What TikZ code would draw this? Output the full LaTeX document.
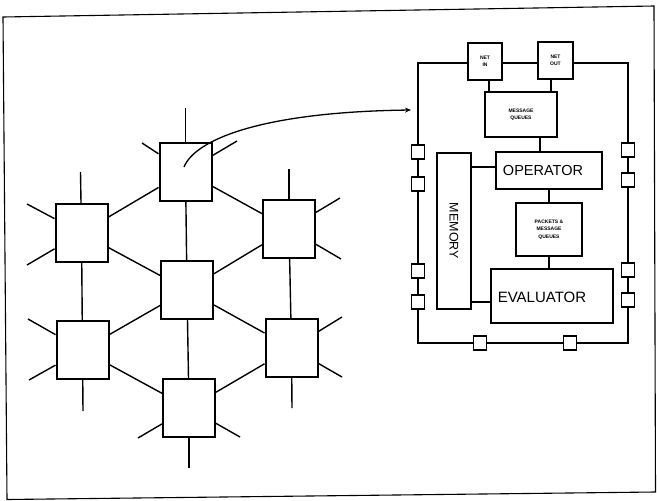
\documentclass[tikz,border=0pt]{standalone}
\usepackage{fontspec}
\setmainfont{Liberation Sans}
\usetikzlibrary{arrows.meta,calc}
\tikzset{
  meshbox/.style={draw, line width=2pt, fill=white, minimum width=52pt, minimum height=58pt, inner sep=0pt},
  link/.style={line width=1.4pt},
  unitbox/.style={draw, line width=1.9pt, fill=white, inner sep=0pt, align=center},
  port/.style={draw, line width=1.2pt, fill=white, minimum width=13pt, minimum height=14pt, inner sep=0pt},
  tiny/.style={font=\bfseries\fontsize{5}{7.5}\selectfont},
  big/.style={font=\fontsize{14.5}{16}\selectfont},
}
\begin{document}
\begin{tikzpicture}[x=1pt,y=-1pt]
\useasboundingbox (0,0) rectangle (657,501);
\fill[white] (0,0) rectangle (657,501);
% outer frame
\draw[line width=1.1pt] (3,17) -- (654,6) -- (655.5,492) -- (7,499.5) -- cycle;

% ---- mesh of processing elements ----
\node[meshbox] (T)  at (185.5,171.5) {};
\node[meshbox] (UL) at (81.5,233) {};
\node[meshbox] (C)  at (187,290) {};
\node[meshbox] (UR) at (289,228.5) {};
\node[meshbox] (LL) at (82.5,350) {};
\node[meshbox] (LR) at (291.5,348) {};
\node[meshbox] (B)  at (189,408) {};

% stub end points
\coordinate (Tt) at (185.5,108);
\coordinate (Tl) at (142,143);
\coordinate (Tr) at (237,141);
\coordinate (ULt) at (80.5,172);
\coordinate (ULa) at (27,204);
\coordinate (ULb) at (27,265);
\coordinate (URt) at (289,169);
\coordinate (URa) at (340,198);
\coordinate (URb) at (341,259);
\coordinate (LLa) at (28,319);
\coordinate (LLb) at (29,380);
\coordinate (LLd) at (83,411);
\coordinate (LRa) at (342,317);
\coordinate (LRb) at (342,377);
\coordinate (LRd) at (292,408);
\coordinate (Bd) at (189,468);
\coordinate (Bl) at (138,438);
\coordinate (Br) at (240,437);

\begin{scope}[link]
\draw (T) -- (UL);
\draw (T) -- (UR);
\draw (T) -- (C);
\draw (UL) -- (C);
\draw (UR) -- (C);
\draw (UL) -- (LL);
\draw (UR) -- (LR);
\draw (C) -- (LL);
\draw (C) -- (LR);
\draw (C) -- (B);
\draw (LL) -- (B);
\draw (LR) -- (B);
\draw (T) -- (Tt); \draw (T) -- (Tl); \draw (T) -- (Tr);
\draw (UL) -- (ULt); \draw (UL) -- (ULa); \draw (UL) -- (ULb);
\draw (UR) -- (URt); \draw (UR) -- (URa); \draw (UR) -- (URb);
\draw (LL) -- (LLa); \draw (LL) -- (LLb); \draw (LL) -- (LLd);
\draw (LR) -- (LRa); \draw (LR) -- (LRb); \draw (LR) -- (LRd);
\draw (B) -- (Bd); \draw (B) -- (Bl); \draw (B) -- (Br);
\end{scope}

% ---- processing element detail ----
\node[draw, line width=2pt, minimum width=210pt, minimum height=280pt, inner sep=0pt] (ring) at (523,203) {};

% curved arrow from mesh element to detail
\coordinate (arrowstart) at (184,167);
\coordinate (arrowend) at (411,110);
\draw[line width=1.3pt, -{Stealth[length=6pt,width=5pt]}] (arrowstart) .. controls (195,140) and (260,112) .. (arrowend);

\node[unitbox, minimum width=34pt, minimum height=37pt, tiny] (netin) at (485,61.5) {NET\\IN};
\node[unitbox, minimum width=35pt, minimum height=37pt, tiny] (netout) at (555.5,60.5) {NET\\OUT};
\node[unitbox, minimum width=72pt, minimum height=45pt, tiny] (mq) at (521,114.5) {MESSAGE\\QUEUES};
\node[unitbox, minimum width=106pt, minimum height=37pt] (op) at (549,170.5) {};
\node[big, inner sep=0pt] (oplabel) at (543,171) {OPERATOR};
\node[unitbox, minimum width=34pt, minimum height=156pt] (mem) at (454,231) {};
\node[rotate=-90, inner sep=0pt, font=\fontsize{12.5}{14}\selectfont] (memlabel) at (mem.center) {MEMORY};
\node[unitbox, minimum width=66pt, minimum height=53pt, tiny] (pk) at (549,229.5) {PACKETS \&\\MESSAGE\\QUEUES};
\node[unitbox, minimum width=122pt, minimum height=54pt] (ev) at (552,296) {};
\node[font=\fontsize{15}{17}\selectfont, inner sep=0pt] (evlabel) at (542,297) {EVALUATOR};

\begin{scope}[line width=1.2pt]
\draw ([xshift=4pt]netin.south) -- ([xshift=4pt]netin.south |- mq.north);
\draw ([xshift=-4.5pt]netout.south) -- ([xshift=-4.5pt]netout.south |- mq.north);
\draw ([xshift=19pt]mq.south) -- ([xshift=19pt]mq.south |- op.north);
\draw (op.south) -- (pk.north);
\draw (pk.south) -- (pk.south |- ev.north);
\draw ([yshift=3.5pt]op.west) -- ([yshift=3.5pt]op.west -| mem.east);
\draw ([yshift=-6pt]ev.west) -- ([yshift=-6pt]ev.west -| mem.east);
\end{scope}

% ports on the ring
\node[port] (pl1) at (418,152) {};
\node[port] (pl2) at (418,184) {};
\node[port] (pl3) at (418,271) {};
\node[port] (pl4) at (418,302) {};
\node[port] (pr1) at (628,150) {};
\node[port] (pr2) at (628,180) {};
\node[port] (pr3) at (628,270) {};
\node[port] (pr4) at (628,300) {};
\node[port] (pb1) at (480,343) {};
\node[port] (pb2) at (570,343) {};
\end{tikzpicture}
\end{document}
